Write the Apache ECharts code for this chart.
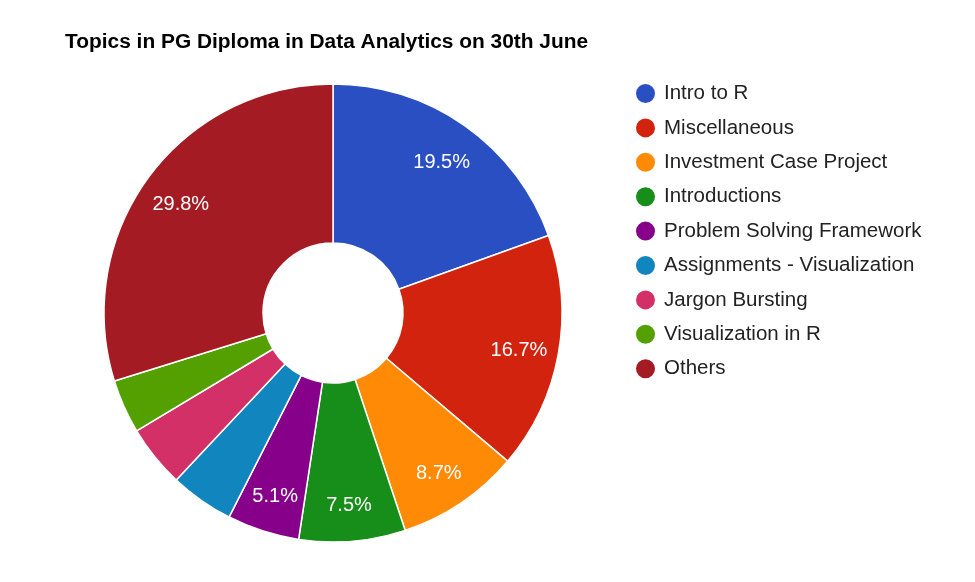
<!DOCTYPE html>
<html>
<head>
<meta charset="utf-8">
<script src="https://cdn.jsdelivr.net/npm/echarts@6/dist/echarts.min.js"></script>
<style>
  html, body { margin: 0; padding: 0; background: #fff; }
  #chart { width: 975px; height: 582px; }
</style>
</head>
<body>
<div id="chart"></div>
<script>
// topics and their share (percent)
var topics = ['Intro to R', 'Miscellaneous', 'Investment Case Project', 'Introductions',
  'Problem Solving Framework', 'Assignments - Visualization', 'Jargon Bursting',
  'Visualization in R', 'Others'];
var shares = [19.5, 16.7, 8.7, 7.5, 5.1, 4.5, 4.4, 3.8, 29.8];
var colors = ['#2a4fc2', '#d2230f', '#ff8a06', '#168e19', '#87008a',
  '#1185bd', '#d33068', '#53a000', '#a51b24'];

var chart = echarts.init(document.getElementById('chart'));

var pieData = topics.map(function (name, i) {
  return { name: name, value: shares[i], itemStyle: { color: colors[i] } };
});

var option = {
  animation: false,
  color: colors,
  title: {
    text: 'Topics in PG Diploma in Data Analytics on 30th June',
    left: 60,
    top: 27,
    textStyle: { fontFamily: 'Liberation Sans', fontSize: 20.9, fontWeight: 'bold', color: '#000' }
  },
  legend: {
    orient: 'vertical',
    left: 629,
    top: 77,
    icon: 'circle',
    itemWidth: 21,
    itemHeight: 21,
    itemGap: 11.4,
    data: topics,
    textStyle: { fontFamily: 'Liberation Sans', fontSize: 20.5, color: '#222',
      padding: [0, 0, 0, 3] }
  },
  series: [
    {
      // the donut itself
      type: 'pie',
      center: [333, 313],
      radius: [70, 229],
      startAngle: 90,
      clockwise: true,
      avoidLabelOverlap: false,
      itemStyle: { borderColor: '#fff', borderWidth: 1.5 },
      label: { show: false },
      labelLine: { show: false },
      emphasis: { disabled: true },
      data: pieData
    },
    {
      // invisible ring used only to place the percent labels further out
      type: 'pie',
      center: [333, 313],
      radius: [143, 229],
      startAngle: 90,
      clockwise: true,
      silent: true,
      avoidLabelOverlap: false,
      itemStyle: { color: 'rgba(0,0,0,0)', borderWidth: 0 },
      label: {
        show: true,
        position: 'inside',
        color: '#fff',
        fontFamily: 'Liberation Sans',
        fontSize: 20,
        offset: [0, 4],
        formatter: function (p) {
          return p.value >= 5 ? p.value.toFixed(1) + '%' : '';
        }
      },
      labelLine: { show: false },
      emphasis: { disabled: true },
      data: topics.map(function (name, i) { return { name: name, value: shares[i] }; })
    }
  ]
};

chart.setOption(option);
</script>
</body>
</html>
